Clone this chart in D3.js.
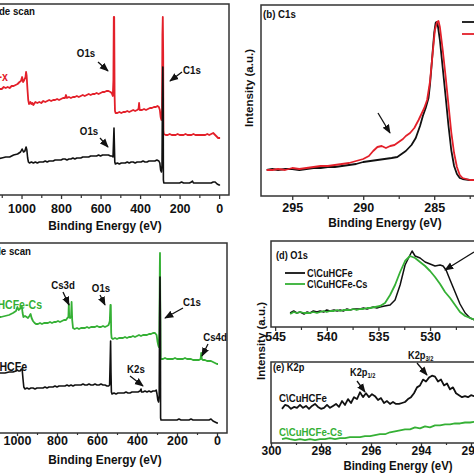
<!DOCTYPE html>
<html><head><meta charset="utf-8">
<script src="https://cdnjs.cloudflare.com/ajax/libs/d3/7.8.5/d3.min.js"></script>
<style>
body{margin:0;background:#fff}
svg{display:block}
text{font-family:"Liberation Sans",Arial,sans-serif;font-weight:bold;fill:#111}
</style>
</head><body>
<svg id="c" width="474" height="474"></svg>
<script>
// ---------------- DATA ----------------
const sampleNames = ["C\\CuHCFe", "C\\CuHCFe-x", "C\\CuHCFe-Cs"];
const ticksSurvey = [1000, 800, 600, 400, 200, 0];
const minorSurvey = [1100, 900, 700, 500, 300, 100];
const ticksC1s = [295, 290, 285];
const minorC1s = [292.5, 287.5, 282.5];
const ticksO1s = [545, 540, 535, 530];
const minorO1s = [542.5, 537.5, 532.5, 527.5];
const ticksK2p = [300, 298, 296, 294, 292];
const minorK2p = [299, 297, 295, 293];

// (a) wide scan [binding energy eV, intensity a.u.]
const surveyA_x = [[1200,103],[1190,105],[1180,103],[1170,104],[1160,102],[1150,105],[1140,104],[1130,106],[1120,104],[1110,106],[1100,106],[1090,108],[1080,107],[1070,108],[1060,107],[1050,109],[1040,109],[1030,110],[1020,111],[1010,113],[1003,114],[997,118],[992,113],[986,115],[980,118],[977,123],[974,119],[970,106],[966,95],[962,91],[955,93],[950,91],[945,92],[940,90],[930,93],[920,92],[910,93],[900,92],[890,94],[880,93],[870,94],[860,95],[850,94],[840,95],[830,95],[820,96],[810,95],[800,96],[790,97],[780,97],[775,100],[770,97],[760,98],[750,97],[740,98],[730,98],[720,99],[710,98],[700,99],[690,100],[680,99],[670,100],[660,101],[650,100],[640,101],[630,101],[620,102],[610,101],[600,102],[590,103],[580,103],[570,104],[560,104],[550,103],[544,102],[538,99],[535,115],[533,178],[531,178],[529,100],[527,84],[524,82],[515,82],[505,83],[495,82],[485,83],[475,83],[465,84],[455,83],[445,84],[435,85],[425,84],[415,85],[408,86],[405,92],[402,85],[390,85],[380,86],[370,85],[360,86],[350,87],[340,87],[330,88],[320,88],[312,89],[305,88],[300,85],[296,78],[292,75],[289,85],[287,160],[285,178],[283,140],[282,65],[280,61],[270,60],[260,60],[250,61],[240,60],[230,60],[220,60],[210,61],[200,60],[190,60],[180,60],[170,61],[160,60],[150,60],[140,60],[130,61],[120,60],[110,60],[100,60],[90,60],[80,60],[70,60],[60,61],[50,60],[40,61],[30,62],[25,61],[20,60],[15,59],[10,58],[5,57],[0,57],[-5,57]];
const surveyA_base = [[1200,35],[1180,36],[1160,35],[1140,37],[1120,36],[1100,37],[1080,38],[1060,38],[1040,40],[1020,41],[1005,43],[997,46],[990,43],[983,44],[977,48],[973,45],[969,37],[965,33],[960,32],[950,33],[940,32],[930,33],[920,32],[910,33],[900,33],[890,33],[880,34],[870,33],[860,34],[850,34],[840,34],[830,35],[820,35],[810,35],[800,35],[790,36],[780,36],[770,35],[760,36],[750,36],[740,37],[730,36],[720,37],[710,37],[700,37],[690,38],[680,38],[670,38],[660,38],[650,39],[640,39],[630,39],[620,39],[610,40],[600,39],[590,40],[580,40],[570,40],[560,40],[550,39],[543,39],[537,38],[534,55],[532,67],[530,50],[528,33],[525,31],[515,32],[505,31],[495,32],[485,32],[475,32],[465,33],[455,32],[445,33],[435,33],[425,32],[415,33],[405,33],[395,33],[385,34],[375,33],[365,33],[355,34],[345,34],[335,34],[325,34],[315,35],[305,34],[300,32],[296,25],[292,23],[289,30],[287,90],[285,128],[283,95],[282,15],[280,12],[270,12],[260,12],[250,12],[240,12],[230,12],[220,12],[210,12],[200,12],[190,13],[180,12],[170,12],[160,12],[150,12],[140,13],[135,14],[130,12],[120,12],[110,12],[100,12],[90,12],[80,12],[70,12],[60,12],[50,12],[40,12],[30,13],[20,13],[10,11],[0,10],[-5,10]];

// (b) C1s
const c1s_base = [[296.8,26],[296.4,27],[296,26],[295.5,27],[295,27],[294.5,26],[294,27],[293.5,28],[293,28],[292.5,29],[292,29],[291.5,30],[291,31],[290.5,32],[290,34],[289.5,35],[289,36],[288.5,37],[288,38],[287.6,39],[287.3,42],[287,45],[286.6,51],[286.3,58],[286,70],[285.8,80],[285.6,88],[285.4,98],[285.3,111],[285.2,128],[285.1,146],[285.0,163],[284.9,173],[284.85,174],[284.75,171],[284.6,156],[284.4,128],[284.2,100],[284.0,71],[283.8,46],[283.6,30],[283.4,22],[283.2,18],[283,17],[282.5,16],[281.5,16]];
const c1s_x = [[296.8,26],[296.4,26],[296,27],[295.5,26],[295,28],[294.5,27],[294,28],[293.5,29],[293,30],[292.5,30],[292,31],[291.5,32],[291,33],[290.5,35],[290,37],[289.6,40],[289.3,45],[289,49],[288.7,50],[288.4,48],[288.1,50],[287.8,51],[287.5,54],[287.2,57],[287,60],[286.7,63],[286.4,68],[286.1,76],[285.9,82],[285.7,88],[285.5,96],[285.3,114],[285.1,144],[284.95,166],[284.8,174],[284.7,175],[284.6,169],[284.4,146],[284.2,120],[284.0,92],[283.8,64],[283.6,43],[283.4,29],[283.2,21],[283,18],[282.5,16],[281.5,16]];

// (c) wide scan
const surveyC_cs = [[1200,115],[1180,116],[1160,115],[1140,116],[1120,115],[1100,116],[1080,116],[1060,117],[1040,118],[1020,120],[1005,122],[998,126],[992,123],[986,124],[980,126],[976,127],[972,120],[968,116],[960,117],[952,116],[945,115],[938,117],[932,119],[927,115],[920,112],[912,110],[905,109],[895,109],[885,110],[875,109],[865,110],[855,110],[845,110],[835,111],[825,110],[815,111],[805,111],[795,112],[785,111],[775,112],[765,113],[755,113],[748,115],[743,116],[741,129],[739,116],[735,115],[730,116],[727,131],[724,113],[720,105],[712,104],[700,105],[690,104],[680,105],[670,105],[660,105],[650,106],[640,105],[630,106],[620,106],[610,106],[600,107],[590,106],[580,106],[570,107],[560,106],[550,107],[542,108],[536,112],[533,128],[531,128],[529,100],[527,95],[520,94],[510,95],[500,94],[490,95],[480,95],[470,95],[460,96],[450,95],[440,96],[430,96],[420,97],[410,96],[400,97],[390,98],[380,97],[370,98],[360,98],[350,98],[340,99],[330,99],[320,100],[310,100],[302,98],[298,92],[294,88],[291,86],[288,103],[286,165],[285,180],[284,143],[282,75],[280,74],[270,74],[260,75],[250,74],[240,74],[230,74],[220,74],[210,75],[200,74],[190,74],[180,74],[170,74],[160,75],[150,74],[140,74],[130,74],[120,73],[110,73],[100,73],[90,73],[82,74],[79,80],[76,74],[70,73],[60,73],[50,72],[40,72],[30,72],[20,71],[10,70],[0,69],[-5,69]];
const surveyC_base = [[1200,58],[1180,59],[1160,58],[1140,59],[1120,59],[1100,60],[1080,60],[1060,60],[1040,61],[1020,61],[1005,62],[998,63],[992,62],[985,62],[978,64],[974,63],[970,54],[966,46],[960,44],[950,45],[940,44],[930,45],[920,45],[910,44],[900,45],[890,45],[880,45],[870,45],[860,46],[850,45],[840,46],[830,46],[820,46],[810,47],[800,46],[790,47],[780,47],[770,47],[760,47],[750,48],[740,47],[730,48],[720,47],[710,48],[700,48],[690,48],[680,48],[670,49],[660,48],[650,48],[640,49],[630,48],[620,48],[610,49],[600,48],[590,48],[580,49],[570,48],[560,48],[550,47],[542,47],[537,48],[534,73],[532,92],[530,60],[528,41],[525,39],[515,40],[505,39],[495,40],[485,40],[475,40],[465,40],[455,41],[445,40],[435,40],[425,41],[415,41],[405,41],[395,41],[385,42],[380,44],[377,41],[370,41],[360,42],[350,41],[340,42],[330,41],[320,42],[310,42],[304,43],[300,39],[296,33],[292,31],[289,38],[287,115],[285,156],[283,113],[282,15],[280,13],[270,13],[260,13],[250,13],[240,13],[230,13],[220,13],[210,13],[200,13],[190,14],[180,13],[170,13],[160,13],[150,13],[140,13],[130,14],[120,13],[110,13],[100,13],[90,13],[80,13],[70,13],[60,13],[50,13],[40,13],[30,14],[20,12],[10,11],[0,10],[-5,10]];

// (d) O1s
const o1s_base = [[543.55,14],[543.2,16],[542.9,14],[542.58,15],[542.2,13],[541.9,15],[541.62,14],[541.3,16],[540.95,15],[540.65,16],[540.3,15],[540.0,17],[539.68,16],[539.3,17],[539.0,16],[538.71,17],[538.4,16],[538.05,18],[537.74,17],[537.4,18],[537.1,18],[536.78,18],[536.45,19],[536.1,18],[535.81,19],[535.5,20],[535.15,19],[534.84,20],[534.4,21],[533.87,22],[533.39,27],[532.9,42],[532.42,62],[531.94,72],[531.74,76],[531.45,71],[530.97,69],[530.48,65],[530.0,63],[529.52,61],[529.03,62],[528.74,61],[528.45,57],[528.06,47],[527.58,35],[527.1,23],[526.6,14],[526.13,9],[525.64,7],[525.2,5]];
const o1s_cs = [[543.55,13],[543.2,15],[542.9,14],[542.58,15],[542.2,14],[541.9,14],[541.62,14],[541.3,15],[540.95,14],[540.65,15],[540.3,16],[540.0,15],[539.68,16],[539.3,16],[539.0,17],[538.71,16],[538.4,17],[538.05,17],[537.74,17],[537.4,18],[537.1,17],[536.78,18],[536.45,18],[536.1,19],[535.81,19],[535.3,20],[534.84,21],[534.36,24],[533.87,32],[533.39,42],[532.9,55],[532.42,66],[531.94,71],[531.45,69],[530.97,65],[530.48,61],[530.0,56],[529.52,50],[529.03,43],[528.55,35],[528.06,29],[527.58,22],[527.1,15],[526.6,11],[526.13,9],[525.64,7],[525.2,6]];

// (e) K2p
const k2p_base = [[299.56,35],[299.44,39],[299.32,38],[299.2,35],[299.08,37],[298.96,36],[298.84,39],[298.72,36],[298.6,38],[298.48,35],[298.36,38],[298.24,40],[298.12,37],[298.0,35],[297.88,36],[297.76,39],[297.64,36],[297.52,38],[297.4,40],[297.28,37],[297.16,43],[297.04,39],[296.92,45],[296.8,41],[296.68,47],[296.56,45],[296.44,52],[296.32,47],[296.2,51],[296.08,47],[295.96,50],[295.84,48],[295.72,44],[295.6,46],[295.48,41],[295.36,43],[295.24,40],[295.12,42],[295.0,40],[294.88,40],[294.76,41],[294.64,42],[294.52,45],[294.4,47],[294.28,51],[294.16,57],[294.04,59],[293.92,65],[293.8,63],[293.68,67],[293.56,69],[293.44,68],[293.32,63],[293.2,65],[293.08,59],[292.96,61],[292.84,55],[292.72,57],[292.6,51],[292.48,49],[292.36,47],[292.24,48],[292.12,47],[292.0,49],[291.88,48],[291.76,49]];
const k2p_cs = [[299.56,4],[299.4,5],[299.24,4],[299.04,3],[298.84,4],[298.64,3],[298.44,4],[298.24,3],[298.04,4],[297.84,4],[297.64,5],[297.44,4],[297.24,5],[297.04,5],[296.84,6],[296.64,6],[296.44,6],[296.24,7],[296.04,7],[295.84,8],[295.64,9],[295.44,9],[295.24,11],[295.04,12],[294.84,13],[294.64,14],[294.44,14],[294.24,16],[294.04,15],[293.84,17],[293.64,16],[293.44,18],[293.24,18],[293.04,19],[292.84,19],[292.64,20],[292.44,20],[292.24,21],[292.04,21],[291.76,22]];

// ---------------- DRAWING ----------------
const RED = "#e3202a", GREEN = "#35b035", BLACK = "#111";
const svg = d3.select("#c");
svg.append("rect").attr("width", 474).attr("height", 474).attr("fill", "#fff");
const defs = svg.append("defs");
defs.append("marker").attr("id", "ah").attr("viewBox", "0 0 10 10")
  .attr("refX", 9).attr("refY", 5).attr("markerWidth", 7).attr("markerHeight", 7)
  .attr("orient", "auto-start-reverse")
  .append("path").attr("d", "M0,1 L10,5 L0,9 z").attr("fill", "#111");

const SQ = 0.88;
function txt(x, y, s, size, opts = {}) {
  return svg.append("text")
    .attr("transform", `translate(${x},${y}) scale(${opts.sq || SQ},1)`)
    .attr("font-size", size)
    .attr("text-anchor", opts.anchor || "start")
    .style("fill", opts.color || "#111")
    .text(s);
}
function arrow(x1, y1, x2, y2) {
  svg.append("line").attr("x1", x1).attr("y1", y1).attr("x2", x2).attr("y2", y2)
    .attr("stroke", "#111").attr("stroke-width", 1.3).attr("marker-end", "url(#ah)");
}

let clipId = 0;
function panel(cfg) {
  const x = d3.scaleLinear().domain(cfg.xd).range(cfg.xr);
  const y = d3.scaleLinear().domain(cfg.yd).range(cfg.yr);
  const id = "clip" + (clipId++);
  const L = Math.min(...cfg.xr), R = Math.max(...cfg.xr);
  const T = Math.min(...cfg.yr), B = Math.max(...cfg.yr);
  defs.append("clipPath").attr("id", id).append("rect")
    .attr("x", L).attr("y", T).attr("width", R - L).attr("height", B - T);
  const g = svg.append("g");
  const line = d3.line().x(d => x(d[0])).y(d => y(d[1]));
  cfg.series.forEach(s => {
    g.append("path").datum(s.data).attr("d", line).attr("fill", "none")
      .attr("stroke", s.color).attr("stroke-width", s.w || 1.5)
      .attr("stroke-linejoin", "round").attr("clip-path", `url(#${id})`);
  });
  const ts = cfg.tickSize || 4;
  const ax = g.append("g").attr("transform", `translate(0,${B})`);
  ax.call(d3.axisBottom(x).tickValues(cfg.ticks).tickSize(ts).tickSizeOuter(0).tickPadding(cfg.pad)
      .tickFormat(d3.format("d")));
  ax.select(".domain").remove();
  ax.selectAll(".tick line").attr("stroke", "#333").attr("stroke-width", 1.3);
  ax.selectAll(".tick text").attr("font-size", cfg.fs || 12.5).attr("fill", "#111")
    .style("font-family", '"Liberation Sans",Arial,sans-serif').style("font-weight", "bold");
  const mx = g.append("g").attr("transform", `translate(0,${B})`);
  mx.call(d3.axisBottom(x).tickValues(cfg.minor).tickSize(ts - 1).tickSizeOuter(0).tickFormat(""));
  mx.select(".domain").remove();
  mx.selectAll(".tick line").attr("stroke", "#333").attr("stroke-width", 1.2);
  g.append("rect").attr("x", L).attr("y", T).attr("width", R - L).attr("height", B - T)
    .attr("fill", "none").attr("stroke", "#333").attr("stroke-width", 1.5);
  return { x, y };
}

// (a)
panel({ xd: [1200, -50], xr: [-18, 229], yd: [0, 191], yr: [195, 4], ticks: ticksSurvey, minor: minorSurvey, pad: 5,
  series: [{ data: surveyA_x, color: RED, w: 1.8 }, { data: surveyA_base, color: BLACK, w: 1.6 }] });
// (b)
panel({ xd: [297.2, 281], xr: [261, 491], yd: [0, 191], yr: [196, 5], ticks: ticksC1s, minor: minorC1s, pad: 3,
  series: [{ data: c1s_base, color: BLACK, w: 1.8 }, { data: c1s_x, color: RED, w: 1.8 }] });
// (c)
panel({ xd: [1200, -50], xr: [-23, 227], yd: [0, 190], yr: [433, 243], ticks: ticksSurvey, minor: minorSurvey, pad: 0, tickSize: 3,
  series: [{ data: surveyC_cs, color: GREEN, w: 1.8 }, { data: surveyC_base, color: BLACK, w: 1.6 }] });
// (d)
panel({ xd: [545.4, 525], xr: [271, 481.7], yd: [0, 86], yr: [327, 241], ticks: ticksO1s, minor: minorO1s, pad: 1.5,
  series: [{ data: o1s_base, color: BLACK, w: 1.5 }, { data: o1s_cs, color: GREEN, w: 1.8 }] });
// (e)
panel({ xd: [300, 291.5], xr: [271, 483.5], yd: [0, 83], yr: [443, 362], ticks: ticksK2p, minor: minorK2p, pad: 0, tickSize: 3, fs: 12,
  series: [{ data: k2p_base, color: BLACK, w: 1.8 }, { data: k2p_cs, color: GREEN, w: 1.8 }] });

// axis titles
const XT = "Binding Energy (eV)";
txt(105, 230, XT, 13.5, { anchor: "middle" });
txt(385, 227, XT, 13.5, { anchor: "middle" });
txt(105, 464, XT, 13.5, { anchor: "middle" });
txt(398, 470, XT, 13, { anchor: "middle" });
svg.append("text").attr("transform", "translate(253,88) rotate(-90)").attr("font-size", 11.5)
  .attr("text-anchor", "middle").text("Intensity (a.u.)");
svg.append("text").attr("transform", "translate(265,341) rotate(-90)").attr("font-size", 11.5)
  .attr("text-anchor", "middle").text("Intensity (a.u.)");

// panel (a) annotations
txt(35, 15, "(a) Wide scan", 11, { anchor: "end" });
txt(8, 81, sampleNames[1], 12, { anchor: "end", color: RED });
txt(86, 57, "O1s", 11, { anchor: "middle" }); arrow(98, 62, 108, 71);
txt(192, 74, "C1s", 11, { anchor: "middle" }); arrow(182, 72, 170, 81);
txt(89, 135, "O1s", 11, { anchor: "middle" }); arrow(100, 138, 108, 147);

// panel (b)
txt(263, 18, "(b) C1s", 11);
arrow(378, 113, 390, 133);
svg.append("line").attr("x1", 462).attr("x2", 484).attr("y1", 22).attr("y2", 22).attr("stroke", BLACK).attr("stroke-width", 1.8);
svg.append("line").attr("x1", 462).attr("x2", 484).attr("y1", 34).attr("y2", 34).attr("stroke", RED).attr("stroke-width", 1.8);

// panel (c)
txt(31, 255, "(c) Wide scan", 11, { anchor: "end" });
txt(42, 309, sampleNames[2], 12, { anchor: "end", color: GREEN });
txt(27, 371, sampleNames[0], 12, { anchor: "end" });
txt(63, 289, "Cs3d", 11, { anchor: "middle" }); arrow(63, 292, 69, 305);
txt(101, 292, "O1s", 11, { anchor: "middle" }); arrow(100, 295, 105, 305);
txt(192, 306, "C1s", 11, { anchor: "middle" }); arrow(183, 308, 165, 318);
txt(215, 341, "Cs4d", 11, { anchor: "middle" }); arrow(208, 344, 202, 356);
txt(136, 373, "K2s", 11, { anchor: "middle" }); arrow(130, 376, 143, 386);

// panel (d)
txt(276, 259, "(d) O1s", 10.5);
svg.append("line").attr("x1", 285).attr("x2", 305).attr("y1", 273).attr("y2", 273).attr("stroke", BLACK).attr("stroke-width", 1.8);
svg.append("line").attr("x1", 285).attr("x2", 305).attr("y1", 284).attr("y2", 284).attr("stroke", GREEN).attr("stroke-width", 1.8);
txt(307, 277, sampleNames[0], 10.5);
txt(307, 288, sampleNames[2], 10.5);
arrow(474, 252, 445, 270);

// panel (e)
txt(273, 371, "(e) K2p", 10.5);
txt(279, 402, sampleNames[0], 11);
txt(279, 436, sampleNames[2], 11, { color: GREEN });
const k1 = txt(350, 376, "K2p", 10.5);
k1.append("tspan").attr("font-size", 6.5).attr("dy", 2).text("1/2");
arrow(357, 381, 365, 392);
const k3 = txt(408, 359, "K2p", 10.5);
k3.append("tspan").attr("font-size", 6.5).attr("dy", 2).text("3/2");
arrow(417, 363, 427, 375);
</script>
</body></html>
